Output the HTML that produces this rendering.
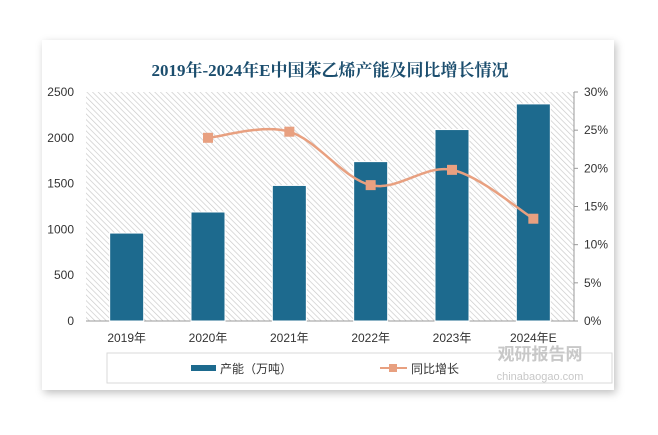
<!DOCTYPE html>
<html><head><meta charset="utf-8"><style>
body{margin:0;background:#fff;width:658px;height:435px;overflow:hidden;font-family:"Liberation Sans","Noto Sans CJK SC",sans-serif}
#card{position:absolute;left:42px;top:40px;width:572px;height:350px;background:#fff;box-shadow:2px 3px 8px rgba(0,0,0,0.25)}
</style></head><body>
<div id="card"></div>
<svg id="c" width="658" height="435" style="position:absolute;left:0;top:0">
<defs><pattern id="hatch" width="4" height="4" patternUnits="userSpaceOnUse" patternTransform="rotate(-45)"><rect width="4" height="4" fill="#fff"/><line x1="0" y1="0" x2="0" y2="4" stroke="#c8c8c8" stroke-width="1.3"/></pattern></defs>
<text x="330" y="76" text-anchor="middle" font-size="17" font-weight="bold" fill="#1c4e6e" font-family="Liberation Serif,'Noto Serif CJK SC',serif">2019年-2024年E中国苯乙烯产能及同比增长情况</text>
<rect x="86" y="92" width="488" height="229" fill="url(#hatch)"/>
<g id="g"></g>
<rect x="107" y="353" width="505" height="30" fill="none" stroke="#d9d9d9"/>
<rect x="191" y="365" width="25" height="6" fill="#1d6a8e"/>
<text x="220" y="373" font-size="12" fill="#333">产能（万吨）</text>
<line x1="380" y1="368" x2="407" y2="368" stroke="#e8a080" stroke-width="2"/>
<rect x="389" y="364" width="8" height="8" fill="#e8a080"/>
<text x="411" y="373" font-size="12" fill="#333">同比增长</text>
<text x="540" y="360" text-anchor="middle" font-size="17" font-weight="bold" fill="#c8c8c8">观研报告网</text>
<text x="540" y="380" text-anchor="middle" font-size="11" fill="#c8c8c8">chinabaogao.com</text>
</svg>
<script>
const categories=["2019年","2020年","2021年","2022年","2023年","2024年E"];
const capacity=[960,1190,1480,1740,2090,2370];
const growth=[null,24.0,24.8,17.8,19.8,13.4];
const leftTicks=[0,500,1000,1500,2000,2500];
const rightTicks=[0,5,10,15,20,25,30];
const NS="http://www.w3.org/2000/svg";
const g=document.getElementById('g');
const L=86,R=574,T=92,B=321;
const bw=(R-L)/categories.length;
const xc=i=>L+bw*(i+0.5);
const yL=v=>B-(v/2500)*(B-T);
const yR=v=>B-(v/30)*(B-T);
function mk(t,a){const e=document.createElementNS(NS,t);for(const k in a)e.setAttribute(k,a[k]);g.appendChild(e);return e;}
leftTicks.forEach(v=>{const t=mk('text',{x:L-12,y:yL(v)+4,'text-anchor':'end','font-size':12,fill:'#333'});t.textContent=v;

});
rightTicks.forEach(v=>{const t=mk('text',{x:R+10,y:yR(v)+4,'font-size':12,fill:'#333'});t.textContent=v+'%';


const l=mk('line',{x1:R,x2:R+4,y1:yR(v),y2:yR(v),stroke:'#999'});

});
const ax=mk('line',{x1:R,x2:R,y1:T,y2:B,stroke:'#999'});


const xa=mk('line',{x1:L,x2:R,y1:B,y2:B,stroke:'#999'});


capacity.forEach((v,i)=>{const r=mk('rect',{x:xc(i)-17,y:yL(v),width:34,height:B-yL(v),fill:'#1d6a8e',stroke:'#fff','stroke-width':1});

});
categories.forEach((c,i)=>{const t=mk('text',{x:xc(i),y:342,'text-anchor':'middle','font-size':12,fill:'#333'});t.textContent=c;

});
const pts=[];growth.forEach((v,i)=>{if(v!=null)pts.push([xc(i),yR(v)]);});
let d='M'+pts[0][0]+','+pts[0][1];
for(let i=0;i<pts.length-1;i++){const p0=pts[i-1]||pts[i],p1=pts[i],p2=pts[i+1],p3=pts[i+2]||p2;
d+=` C${p1[0]+(p2[0]-p0[0])/6},${p1[1]+(p2[1]-p0[1])/6} ${p2[0]-(p3[0]-p1[0])/6},${p2[1]-(p3[1]-p1[1])/6} ${p2[0]},${p2[1]}`;}
const ln=mk('path',{d:d,fill:'none',stroke:'#e8a080','stroke-width':2.5});


pts.forEach(p=>{const m=mk('rect',{x:p[0]-5,y:p[1]-5,width:10,height:10,fill:'#e8a080'});

});
</script>
</body></html>
